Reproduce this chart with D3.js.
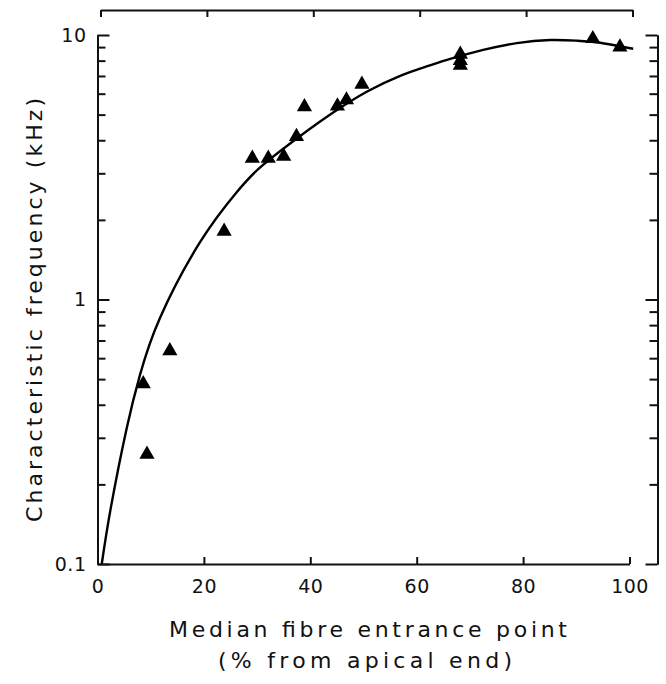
<!DOCTYPE html>
<html>
<head>
<meta charset="utf-8">
<script src="https://cdn.jsdelivr.net/npm/d3@7"></script>
<style>
  html, body { margin: 0; padding: 0; background: #fff; }
  svg { display: block; }
  text { font-family: "DejaVu Sans", sans-serif; fill: #111; }
</style>
</head>
<body>
<script>
// ---- data ----
const pointX = [8.6, 9.3, 13.6, 23.8, 29.1, 32.1, 35.0, 37.4, 38.9, 45.1, 46.8, 49.7, 68.2, 68.2, 68.2, 93.1, 98.2];
const pointY = [0.48, 0.26, 0.64, 1.81, 3.42, 3.42, 3.48, 4.13, 5.35, 5.39, 5.68, 6.51, 8.45, 8.0, 7.68, 9.68, 9.0];

const curveX = [0.8, 2.5, 5.5, 8.0, 11.7, 19.3, 26.2, 30.9, 38.1, 44.3, 50.6, 56.9, 62.0, 66.3, 72.5, 78.8, 85.1, 90.1, 94.5, 100.7];
const curveY = [0.1, 0.163, 0.327, 0.52, 0.848, 1.65, 2.55, 3.2, 4.15, 5.09, 6.10, 7.01, 7.62, 8.12, 8.78, 9.32, 9.57, 9.52, 9.35, 8.87];

const xTicks = [0, 20, 40, 60, 80, 100];
const xTopTicks = [0, 20, 40, 60, 80, 100];
const yMajor = [0.1, 1, 10];
const yMajorLabels = ["0.1", "1", "10"];
const yMinor = [0.2, 0.3, 0.4, 0.5, 0.6, 0.7, 0.8, 0.9, 2, 3, 4, 5, 6, 7, 8, 9];

const xTitle1 = "Median fibre entrance point";
const xTitle2 = "(% from apical end)";
const yTitle = "Characteristic frequency (kHz)";

// ---- drawing ----
const W = 666, H = 684;
const svg = d3.select("body").append("svg").attr("width", W).attr("height", H);
svg.append("rect").attr("width", W).attr("height", H).attr("fill", "#fff");

const x = d3.scaleLinear().domain([0, 100]).range([97.5, 629.5]);
const y = d3.scaleLog().domain([0.1, 10]).range([564, 35]);
const xTop = d3.scaleLinear().domain([0, 100]).range([100.5, 632.5]);
const rightX = 657.5;

function styleAxis(g) {
  g.selectAll(".domain").attr("stroke", "#111").attr("stroke-width", 2);
  g.selectAll(".tick line").attr("stroke", "#111").attr("stroke-width", 2);
  g.selectAll("text").attr("fill", "#111").attr("font-family", "DejaVu Sans, sans-serif");
}

// bottom axis
const gB = svg.append("g").attr("transform", "translate(0,564)")
  .call(d3.axisBottom(x).tickValues(xTicks).tickSize(-7).tickSizeOuter(0).tickPadding(16).tickFormat(d3.format("d")));
styleAxis(gB);
gB.selectAll("text").attr("font-size", 19).attr("letter-spacing", 0.5);

// top axis (slightly offset, as in the reference)
const gT = svg.append("g").attr("transform", "translate(0,10)")
  .call(d3.axisTop(xTop).tickValues(xTopTicks).tickSize(-7).tickSizeOuter(0).tickFormat(""));
styleAxis(gT);

// left axis: major
const gL = svg.append("g").attr("transform", "translate(97.5,0)")
  .call(d3.axisLeft(y).tickValues(yMajor).tickSize(-12).tickSizeOuter(0).tickPadding(11)
    .tickFormat((d, i) => yMajorLabels[i]));
styleAxis(gL);
gL.selectAll("text").attr("font-size", 19).attr("letter-spacing", 0.5);
// left axis: minor
const gLm = svg.append("g").attr("transform", "translate(97.5,0)")
  .call(d3.axisLeft(y).tickValues(yMinor).tickSize(-8).tickSizeOuter(0).tickFormat(""));
styleAxis(gLm);

// right axis
const gR = svg.append("g").attr("transform", `translate(${rightX},0)`)
  .call(d3.axisRight(y).tickValues(yMajor).tickSize(-12).tickSizeOuter(0).tickFormat(""));
styleAxis(gR);
const gRm = svg.append("g").attr("transform", `translate(${rightX},0)`)
  .call(d3.axisRight(y).tickValues(yMinor).tickSize(-8).tickSizeOuter(0).tickFormat(""));
styleAxis(gRm);

// fitted curve
const curveData = curveX.map((v, i) => [v, curveY[i]]);
svg.append("path")
  .datum(curveData)
  .attr("fill", "none")
  .attr("stroke", "#000")
  .attr("stroke-width", 2.4)
  .attr("d", d3.line().x(d => x(d[0])).y(d => y(d[1])).curve(d3.curveNatural));

// data points
const pts = pointX.map((v, i) => [v, pointY[i]]);
svg.append("g").selectAll("path").data(pts).join("path")
  .attr("transform", d => `translate(${x(d[0])},${y(d[1])})`)
  .attr("d", d3.symbol(d3.symbolTriangle, 100))
  .attr("fill", "#000");

// titles
svg.append("text").attr("x", 368).attr("y", 637)
  .attr("text-anchor", "middle").attr("font-size", 22)
  .attr("textLength", 398).attr("lengthAdjust", "spacing")
  .text(xTitle1);
svg.append("text").attr("x", 365).attr("y", 668)
  .attr("text-anchor", "middle").attr("font-size", 22)
  .attr("textLength", 294).attr("lengthAdjust", "spacing")
  .text(xTitle2);
svg.append("text")
  .attr("transform", "translate(42,310) rotate(-90)")
  .attr("text-anchor", "middle").attr("font-size", 22)
  .attr("textLength", 424).attr("lengthAdjust", "spacing")
  .text(yTitle);
</script>
</body>
</html>
